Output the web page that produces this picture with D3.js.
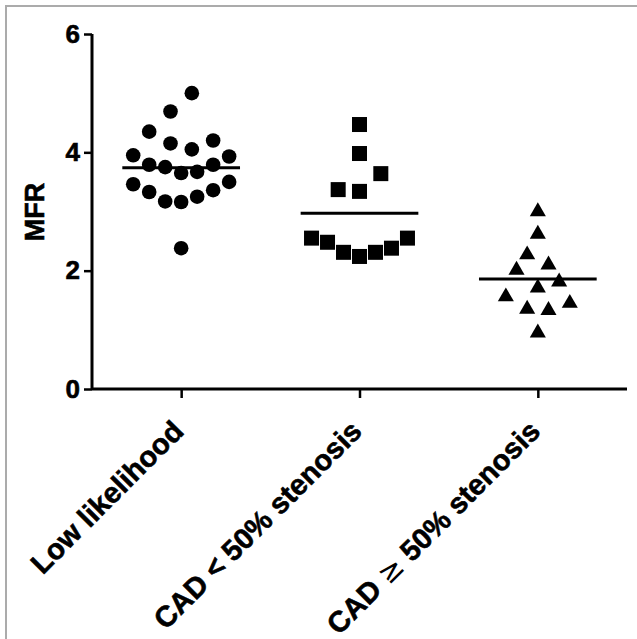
<!DOCTYPE html>
<html>
<head>
<meta charset="utf-8">
<script src="https://cdn.jsdelivr.net/npm/d3@7"></script>
<style>
  body { margin: 0; background: #fff; }
  text { font-family: "Liberation Sans", Arial, sans-serif; font-weight: bold; stroke: #000; stroke-width: 0.6px; }
</style>
</head>
<body>
<svg id="chart"></svg>
<script>
// categories and tick labels
var categories = ['Low likelihood', 'CAD < 50% stenosis', 'CAD \u2265 50% stenosis'];
var yTicks = [0, 2, 4, 6];

// MFR values per group, with the horizontal slot each point was nudged to
var lowValues = [5.00, 4.69, 4.35, 4.15, 4.05, 4.20, 3.95, 3.93, 3.79, 3.75, 3.65,
                 3.67, 3.79, 3.46, 3.33, 3.17, 3.16, 3.25, 3.36, 3.50, 2.38];
var lowSlots  = [2, -2, -6, -2, 2, 6, -9, 9, -6, -3, 0,
                 3, 6, -9, -6, -3, 0, 3, 6, 9, 0];

var cadLessValues = [4.47, 3.98, 3.64, 3.37, 3.34, 2.55, 2.48, 2.31, 2.24, 2.31, 2.38, 2.55];
var cadLessSlots  = [0, 0, 4, -4, 0, -9, -6, -3, 0, 3, 6, 9];

var cadMoreValues = [3.00, 2.62, 2.27, 2.01, 2.10, 1.81, 1.71, 1.56, 1.35, 1.33, 1.45, 0.95];
var cadMoreSlots  = [0, 0, -2, -4, 2, 4, 0, -6, -2, 2, 6, 0];

// group means (horizontal lines)
var means = [3.74, 2.97, 1.86];

var width = 637;
var height = 639;

var svg = d3.select('#chart')
  .attr('width', width)
  .attr('height', height);

// frame (left and top edges only)
svg.append('path')
  .attr('d', 'M6,' + height + 'V6H' + width)
  .attr('fill', 'none')
  .attr('stroke', '#ababab')
  .attr('stroke-width', 2);

// scales
var x = d3.scalePoint().domain(categories).range([92, 627]).padding(0.5);
var y = d3.scaleLinear().domain([0, 6]).range([389, 34]);
var jitter = d3.scaleLinear().domain([0, 1]).range([0, 5.33]);

// y axis
var yAxis = svg.append('g')
  .attr('transform', 'translate(92,0)')
  .call(d3.axisLeft(y).tickValues(yTicks).tickFormat(d3.format('d')).tickSize(8).tickPadding(4));
yAxis.select('.domain').attr('stroke', '#000').attr('stroke-width', 3)
  .attr('d', 'M0,' + y(6) + 'V' + y(0));
yAxis.selectAll('.tick line').attr('stroke-width', 2.5);
yAxis.selectAll('.tick text')
  .style('font-size', '26px')
  .attr('fill', '#000');

// x axis
var xAxis = svg.append('g')
  .attr('transform', 'translate(0,389)')
  .call(d3.axisBottom(x).tickSize(9).tickFormat(''));
xAxis.select('.domain').attr('stroke', '#000').attr('stroke-width', 3)
  .attr('d', 'M92,0H627');
xAxis.selectAll('.tick line').attr('stroke-width', 2.5);

// rotated category labels
var labels = svg.append('g').selectAll('text')
  .data(categories)
  .enter()
  .append('text')
    .attr('text-anchor', 'end')
    .attr('transform', function(d) {
      return 'translate(' + (x(d) + 4) + ',' + 433 + ') rotate(-45)';
    })
    .style('font-size', '29px')
    .attr('fill', '#000');

labels.each(function(d) {
  var t = d3.select(this);
  if (d.indexOf('\u2265') >= 0) {
    var parts = d.split('\u2265');
    t.append('tspan').text(parts[0]);
    t.append('tspan').text('\u2265')
      .style('font-weight', 'normal').style('font-family', 'DejaVu Sans').style('stroke-width', 0);
    t.append('tspan').text(parts[1]);
  } else {
    t.text(d);
  }
});

// y axis title
svg.append('text')
  .attr('transform', 'translate(44,212) rotate(-90)')
  .attr('text-anchor', 'middle')
  .style('font-size', '27px')
  .attr('fill', '#000')
  .text('MFR');

// points
var pts = svg.append('g');

pts.selectAll('circle')
  .data(lowValues)
  .enter()
  .append('circle')
    .attr('cx', function(d, i) { return x(categories[0]) + jitter(lowSlots[i]); })
    .attr('cy', function(d) { return y(d); })
    .attr('r', 7.3)
    .attr('fill', '#000');

pts.selectAll('rect')
  .data(cadLessValues)
  .enter()
  .append('rect')
    .attr('x', function(d, i) { return x(categories[1]) + jitter(cadLessSlots[i]) - 7.5; })
    .attr('y', function(d) { return y(d) - 7.5; })
    .attr('width', 15)
    .attr('height', 15)
    .attr('fill', '#000');

var tri = d3.symbol().type(d3.symbolTriangle).size(112);
pts.selectAll('path.tri')
  .data(cadMoreValues)
  .enter()
  .append('path')
    .attr('class', 'tri')
    .attr('d', tri)
    .attr('transform', function(d, i) {
      return 'translate(' + (x(categories[2]) + jitter(cadMoreSlots[i])) + ',' + y(d) + ')';
    })
    .attr('fill', '#000');

// mean lines
var half = x.step() * 0.33;
svg.append('g').selectAll('line')
  .data(means)
  .enter()
  .append('line')
    .attr('x1', function(d, i) { return x(categories[i]) - half; })
    .attr('x2', function(d, i) { return x(categories[i]) + half; })
    .attr('y1', function(d) { return y(d); })
    .attr('y2', function(d) { return y(d); })
    .attr('stroke', '#000')
    .attr('stroke-width', 3);
</script>
</body>
</html>
